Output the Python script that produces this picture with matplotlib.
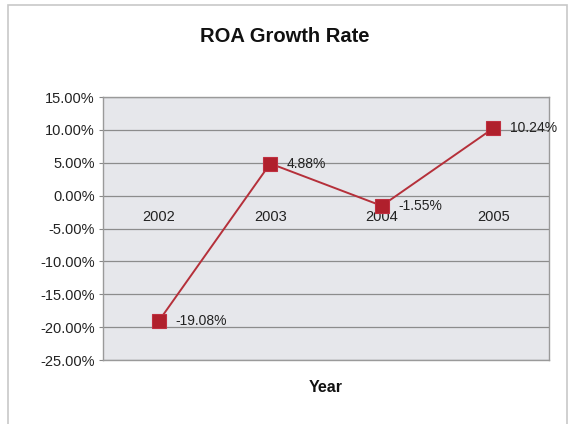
import matplotlib.pyplot as plt
from matplotlib.patches import Rectangle
from matplotlib.ticker import FuncFormatter
from matplotlib.transforms import offset_copy

years = ["2002", "2003", "2004", "2005"]
roa_growth = [-19.08, 4.88, -1.55, 10.24]
y_ticks = [15, 10, 5, 0, -5, -10, -15, -20, -25]

plt.rcParams['font.family'] = ['Liberation Sans', 'DejaVu Sans']

fig = plt.figure(figsize=(5.7, 4.24), dpi=100)
fig.patch.set_facecolor('white')

# outer chart frame
fig.add_artist(Rectangle((8 / 570, -0.01), 559 / 570, 419 / 424 + 0.01,
                         transform=fig.transFigure, fill=False,
                         edgecolor='#c8c8c8', linewidth=1.2))

ax = fig.add_axes([103 / 570, 1 - 360 / 424, 446 / 570, 263 / 424])
ax.set_facecolor('#e6e7eb')

x = list(range(len(years)))
ax.plot(x, roa_growth, color='#b5303a', linewidth=1.4, zorder=3)
ax.plot(x, roa_growth, linestyle='none', marker='s', markersize=10,
        markerfacecolor='#b0202c', markeredgecolor='#c03040',
        markeredgewidth=0.8, zorder=4)

for xi, v in zip(x, roa_growth):
    ax.annotate(f"{v:.2f}%", (xi, v), xytext=(12, 0), textcoords='offset points',
                ha='left', va='center', fontsize=10, color='#222222', zorder=5)

ax.set_xlim(-0.5, len(years) - 0.5)
ax.set_ylim(-25, 15)
ax.set_yticks(y_ticks)
ax.yaxis.set_major_formatter(FuncFormatter(lambda v, p: f"{v:.2f}%"))
ax.tick_params(axis='y', labelsize=10.5, length=3, color='#888888',
               labelcolor='#222222', pad=3)
ax.yaxis.grid(True, color='#8c8c8c', linewidth=0.9)
ax.set_axisbelow(True)
ax.set_xticks([])

for s in ax.spines.values():
    s.set_color('#9a9a9a')
    s.set_linewidth(1.0)

# category labels sit just below the zero line
cat_trans = offset_copy(ax.transData, fig=fig, x=0, y=-21, units='dots')
for xi, yr in zip(x, years):
    ax.text(xi, 0, yr, transform=cat_trans, ha='center', va='center',
            fontsize=10.5, color='#222222', zorder=2)

fig.text(0.5, 1 - 37 / 424, "ROA Growth Rate", ha='center', va='center',
         fontsize=14.5, fontweight='bold', color='#111111')
fig.text(326 / 570, 1 - 388 / 424, "Year", ha='center', va='center',
         fontsize=11.5, fontweight='bold', color='#111111')

fig.savefig('out.png', dpi=100)
